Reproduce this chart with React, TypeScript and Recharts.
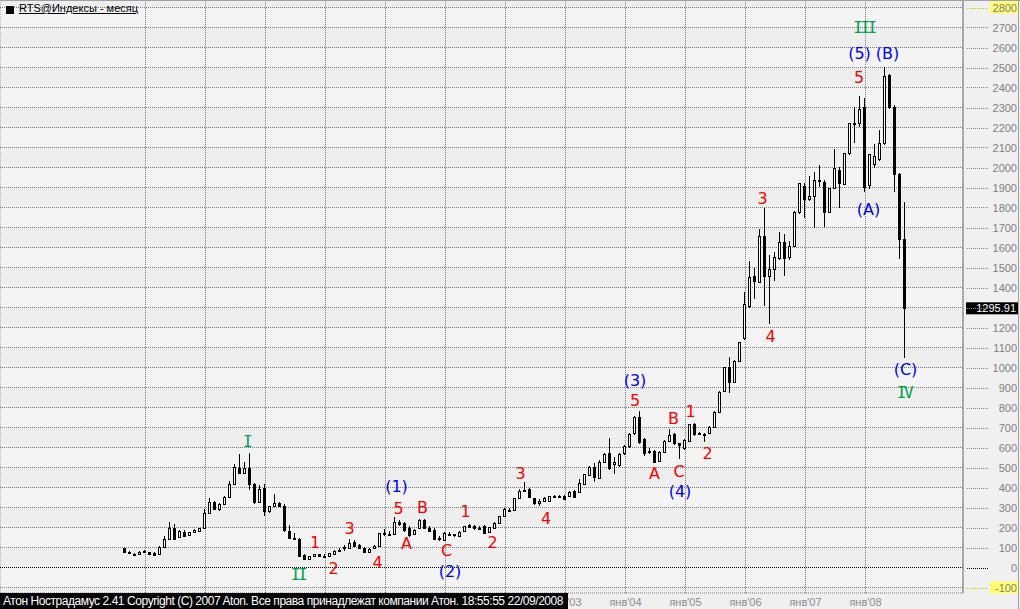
import React from 'react';
import { ComposedChart, Bar, Scatter, XAxis, YAxis, CartesianGrid, ReferenceLine } from 'recharts';

// RTS monthly candles, index 0 = Sep 1995 ... 156 = Sep 2008
const opens = [
  97, 80, 70, 68,
  82, 77, 72, 67, 101, 145, 196, 155, 180, 162, 177, 185,
  196, 271, 327, 293, 318, 352, 416, 500, 472, 497, 420, 330,
  396, 285, 307, 322, 310, 182, 150, 144, 62, 43, 56, 66,
  58, 58, 70, 82, 100, 100, 126, 112, 100, 80, 96, 108,
  172, 170, 170, 228, 222, 200, 168, 196, 240, 200, 190, 147,
  140, 170, 162, 158, 182, 212, 206, 200, 207, 176, 200, 225,
  256, 290, 288, 346, 388, 392, 346, 321, 334, 332, 357, 357,
  359, 357, 382, 379, 417, 462, 501, 449, 529, 571, 517, 512,
  571, 607, 671, 751, 641, 580, 584, 534, 579, 632, 667, 621,
  596, 634, 716, 670, 668, 671, 704, 776, 883, 1004, 929, 1034,
  1146, 1309, 1456, 1429, 1657, 1459, 1492, 1549, 1626, 1551, 1609, 1776,
  1907, 1841, 1857, 1935, 1929, 1779, 1896, 1987, 1916, 2071, 2224, 2221,
  2301, 1912, 2016, 2041, 2121, 2462, 2304, 1967, 1642,
];
const highs = [
  99, 82, 71, 82,
  88, 79, 76, 107, 160, 226, 220, 186, 188, 180, 192, 200,
  292, 346, 333, 323, 358, 432, 517, 567, 530, 571, 424, 412,
  416, 310, 366, 326, 318, 212, 175, 148, 66, 60, 70, 70,
  66, 74, 88, 98, 112, 143, 140, 120, 105, 98, 112, 174,
  195, 185, 254, 236, 230, 206, 194, 244, 244, 208, 196, 160,
  176, 180, 170, 181, 210, 218, 212, 206, 212, 204, 227, 260,
  296, 300, 350, 394, 428, 396, 350, 344, 352, 360, 362, 364,
  364, 382, 386, 444, 470, 508, 520, 540, 575, 646, 554, 572,
  612, 672, 756, 782, 650, 600, 590, 584, 640, 691, 675, 625,
  645, 720, 722, 676, 675, 708, 780, 885, 1004, 1051, 1038, 1130,
  1376, 1532, 1499, 1692, 1796, 1563, 1576, 1680, 1667, 1634, 1780, 1924,
  1924, 1960, 1979, 2012, 1940, 1900, 2092, 2004, 2075, 2225, 2301, 2359,
  2346, 2070, 2117, 2190, 2501, 2470, 2310, 1975, 1829,
];
const lows = [
  78, 70, 63, 66,
  74, 66, 60, 65, 98, 140, 138, 150, 152, 158, 175, 183,
  194, 268, 286, 285, 316, 350, 414, 466, 468, 390, 320, 326,
  259, 275, 302, 305, 180, 142, 140, 55, 40, 38, 52, 54,
  52, 56, 66, 78, 82, 96, 106, 92, 72, 76, 94, 106,
  160, 160, 168, 210, 180, 155, 164, 194, 194, 180, 138, 133,
  135, 158, 155, 155, 180, 198, 190, 194, 170, 172, 198, 222,
  254, 282, 285, 344, 380, 348, 312, 310, 330, 328, 350, 352,
  338, 354, 350, 376, 414, 458, 429, 446, 520, 490, 466, 505,
  565, 600, 665, 620, 560, 570, 520, 528, 575, 628, 615, 541,
  590, 630, 660, 664, 629, 668, 700, 772, 880, 871, 925, 1030,
  1140, 1300, 1341, 1425, 1309, 1216, 1435, 1540, 1459, 1540, 1605, 1770,
  1746, 1832, 1699, 1904, 1704, 1775, 1890, 1796, 1910, 2065, 2124, 2201,
  1879, 1890, 1997, 2035, 2115, 2290, 1879, 1542, 1050,
];
const closes = [
  80, 72, 66, 80,
  77, 68, 64, 104, 144, 200, 142, 182, 160, 176, 189, 196,
  271, 327, 293, 316, 354, 416, 501, 471, 498, 420, 330, 392,
  283, 307, 322, 308, 190, 148, 143, 58, 44, 58, 67, 58,
  60, 71, 85, 90, 102, 124, 110, 96, 77, 95, 110, 172,
  170, 168, 226, 218, 186, 165, 190, 240, 198, 185, 143, 145,
  172, 165, 166, 178, 208, 202, 196, 198, 175, 202, 225, 257,
  292, 287, 347, 385, 390, 351, 321, 333, 346, 357, 358, 356,
  341, 379, 354, 421, 466, 501, 454, 529, 567, 496, 529, 567,
  607, 667, 751, 626, 574, 585, 529, 579, 632, 662, 621, 612,
  637, 716, 667, 671, 667, 704, 776, 879, 1002, 929, 1034, 1126,
  1316, 1451, 1434, 1657, 1459, 1491, 1551, 1626, 1549, 1609, 1776, 1921,
  1841, 1857, 1937, 1940, 1779, 1896, 1996, 1921, 2071, 2221, 2222, 2291,
  1904, 2066, 2058, 2121, 2459, 2304, 1967, 1642, 1296,
];

const lastPrice = 1295.91;

// january of each year (month index) and its label; labels hidden under the status bar are left empty
const yearTicks = [4, 16, 28, 40, 52, 64, 76, 88, 100, 112, 124, 136, 148];
const yearLabels = ['', '', '', '', '', '', '', "янв'03", "янв'04", "янв'05", "янв'06", "янв'07", "янв'08"];

const priceTicks = [-100, 0, 100, 200, 300, 400, 500, 600, 700, 800, 900, 1000, 1100, 1200, 1300, 1400, 1500, 1600, 1700, 1800, 1900, 2000, 2100, 2200, 2300, 2400, 2500, 2600, 2700, 2800];

// Elliott wave marks: text, month position, price position, kind
const waveTexts = ['I', 'II', '1', '2', '3', '4', '(1)', '5', 'A', 'B', 'C', '(2)', '1', '2', '3', '4', '(3)', '5', 'A', 'B', 'C', '(4)', '1', '2', '3', '4', 'III', '(5)', '(B)', '5', '(A)', '(C)', 'IV'];
const waveT = [24.5, 34.8, 38.2, 41.9, 45.1, 50.7, 54.5, 54.9, 56.5, 59.7, 64.5, 65.2, 68.3, 73.7, 79.3, 84.4, 102.2, 102.2, 106.1, 109.9, 111, 111.2, 113.3, 116.7, 127.7, 129.3, 148, 147.1, 152.7, 147, 148.9, 156.3, 156];
const waveV = [629, -33, 124, -4, 196, 26, 404, 296, 118, 299, 84, -18, 279, 124, 468, 243, 933, 834, 468, 746, 479, 379, 779, 568, 1846, 1154, 2699, 2571, 2571, 2451, 1791, 991, 876];
const waveKind = ['g', 'g', 'r', 'r', 'r', 'r', 'b', 'r', 'r', 'r', 'r', 'b', 'r', 'r', 'r', 'r', 'b', 'r', 'r', 'r', 'r', 'b', 'r', 'r', 'r', 'r', 'g', 'b', 'b', 'r', 'b', 'b', 'g'];

const kindColor: Record<string, string> = { r: '#ff0000', b: '#0000ff', g: '#00a050' };

const candles = opens.map((o, i) => ({
  t: i,
  range: [lows[i], highs[i]],
  o,
  h: highs[i],
  l: lows[i],
  c: closes[i],
}));

const waves = waveTexts.map((text, i) => ({ t: waveT[i], v: waveV[i], text, kind: waveKind[i] }));

const Candle = (props: any) => {
  const { x, y, width, height, payload } = props;
  if (x == null || !payload || !(payload.h > payload.l)) return null;
  const { o, h, l, c } = payload;
  const k = height / (h - l);
  const cx = Math.round(x + width / 2);
  const yo = y + (h - o) * k;
  const yc = y + (h - c) * k;
  const top = Math.round(Math.min(yo, yc));
  const bot = Math.round(Math.max(yo, yc));
  const up = c >= o;
  return (
    <g>
      <line x1={cx + 0.5} x2={cx + 0.5} y1={Math.round(y)} y2={Math.round(y + height)} stroke="#000" strokeWidth={1} />
      <rect
        x={cx - 0.5}
        y={top + 0.5}
        width={2}
        height={Math.max(bot - top, 1)}
        fill={up ? '#fff' : '#000'}
        stroke="#000"
        strokeWidth={1}
      />
    </g>
  );
};

const WaveLabel = (props: any) => {
  const { cx, cy, payload } = props;
  if (cx == null) return null;
  const roman = payload.kind === 'g';
  return (
    <text
      x={cx}
      y={cy}
      textAnchor="middle"
      dominantBaseline="central"
      fill={kindColor[payload.kind]}
      fontSize={16}
      fontFamily={roman ? 'DejaVu Sans Mono' : 'DejaVu Sans'}
      letterSpacing={roman ? -2.5 : 0}
    >
      {payload.text}
    </text>
  );
};

const YTick = (props: any) => {
  const { x, y, payload } = props;
  const v = payload.value;
  const edge = v === 2800 || v === -100;
  const lineColor = edge ? '#c8c800' : v === 0 ? '#000' : '#808080';
  // the last-price marker covers the tick label next to it
  const covered = Math.abs(v - lastPrice) < 30;
  return (
    <g>
      <line x1={x + 4} x2={x + 26} y1={Math.round(y) + 0.5} y2={Math.round(y) + 0.5} stroke={lineColor} strokeDasharray="1 1" />
      {edge && <rect x={x + 27} y={y - 6} width={28} height={12} fill="#ffff70" />}
      {!covered && (
        <text x={x + 54} y={y + 4} textAnchor="end" fontSize={11} fill="#7f7f7f" fontFamily="Liberation Sans">
          {v}
        </text>
      )}
    </g>
  );
};

const XTick = (props: any) => {
  const { x, y, index } = props;
  const label = yearLabels[index];
  if (!label) return null;
  return (
    <text x={x} y={y + 13} textAnchor="middle" fontSize={11} fill="#8a8a8a" fontFamily="Liberation Sans">
      {label}
    </text>
  );
};

const PriceLabel = (props: any) => {
  const { viewBox } = props;
  if (!viewBox) return null;
  const x0 = viewBox.x + viewBox.width + 3;
  return (
    <g>
      <rect x={x0} y={viewBox.y - 6} width={52} height={12} fill="#000" />
      <text x={x0 + 50} y={viewBox.y + 4} textAnchor="end" fontSize={11} fill="#fff" fontFamily="Liberation Sans">
        {lastPrice.toFixed(2)}
      </text>
    </g>
  );
};

export default function App() {
  return (
    <div style={{ position: 'absolute', left: 0, top: 0, width: 1020, height: 609, background: '#f0f0f0', overflow: 'hidden' }}>
      <ComposedChart width={1020} height={609} data={candles} margin={{ top: 0, right: 0, bottom: 0, left: 0 }}>
        <CartesianGrid
          stroke="#7a7a7a"
          strokeDasharray="1 1"
          horizontalFill={['#eeeeee', '#f4f4f4']}
          fillOpacity={1}
        />
        <XAxis
          dataKey="t"
          type="number"
          domain={[-24.8, 167.8]}
          ticks={yearTicks.map((t) => t + 0.3)}
          height={16}
          axisLine={false}
          tickLine={false}
          tickSize={0}
          tickMargin={0}
          tick={<XTick />}
          interval={0}
          allowDataOverflow
        />
        <YAxis
          orientation="right"
          type="number"
          domain={[-127.5, 2837.5]}
          ticks={priceTicks}
          width={57}
          axisLine={{ stroke: '#808080' }}
          tickLine={false}
          tickSize={0}
          tickMargin={0}
          tick={<YTick />}
          interval={0}
          allowDataOverflow
        />
        <ReferenceLine y={0} stroke="#000" strokeDasharray="1 1" />
        <ReferenceLine y={lastPrice} stroke="none" label={<PriceLabel />} />
        <Bar dataKey="range" barSize={3} shape={<Candle />} isAnimationActive={false} />
        <Scatter data={waves} dataKey="v" shape={<WaveLabel />} isAnimationActive={false} />
      </ComposedChart>

      <div style={{ position: 'absolute', left: 0, top: 0, width: 1020, height: 1, background: '#a0a0a0' }} />
      <div style={{ position: 'absolute', left: 1018, top: 0, width: 1, height: 609, background: '#a0a0a0' }} />
      <div style={{ position: 'absolute', left: 6, top: 6, width: 8, height: 8, background: '#000' }} />
      <div
        style={{
          position: 'absolute',
          left: 19,
          top: 2,
          fontFamily: 'Liberation Sans',
          fontSize: 11,
          lineHeight: '13px',
          color: '#000',
          textDecoration: 'underline',
        }}
      >
        RTS@Индексы - месяц
      </div>
      <div
        style={{
          position: 'absolute',
          left: 0,
          top: 593,
          width: 568,
          height: 16,
          background: '#000',
          color: '#fff',
          fontFamily: 'Liberation Sans',
          fontSize: 12,
          lineHeight: '16px',
          letterSpacing: -0.45,
          paddingLeft: 3,
          boxSizing: 'border-box',
          whiteSpace: 'nowrap',
          overflow: 'hidden',
        }}
      >
        Атон Нострадамус 2.41 Copyright (C) 2007 Aton. Все права принадлежат компании Атон. 18:55:55 22/09/2008
      </div>
    </div>
  );
}
